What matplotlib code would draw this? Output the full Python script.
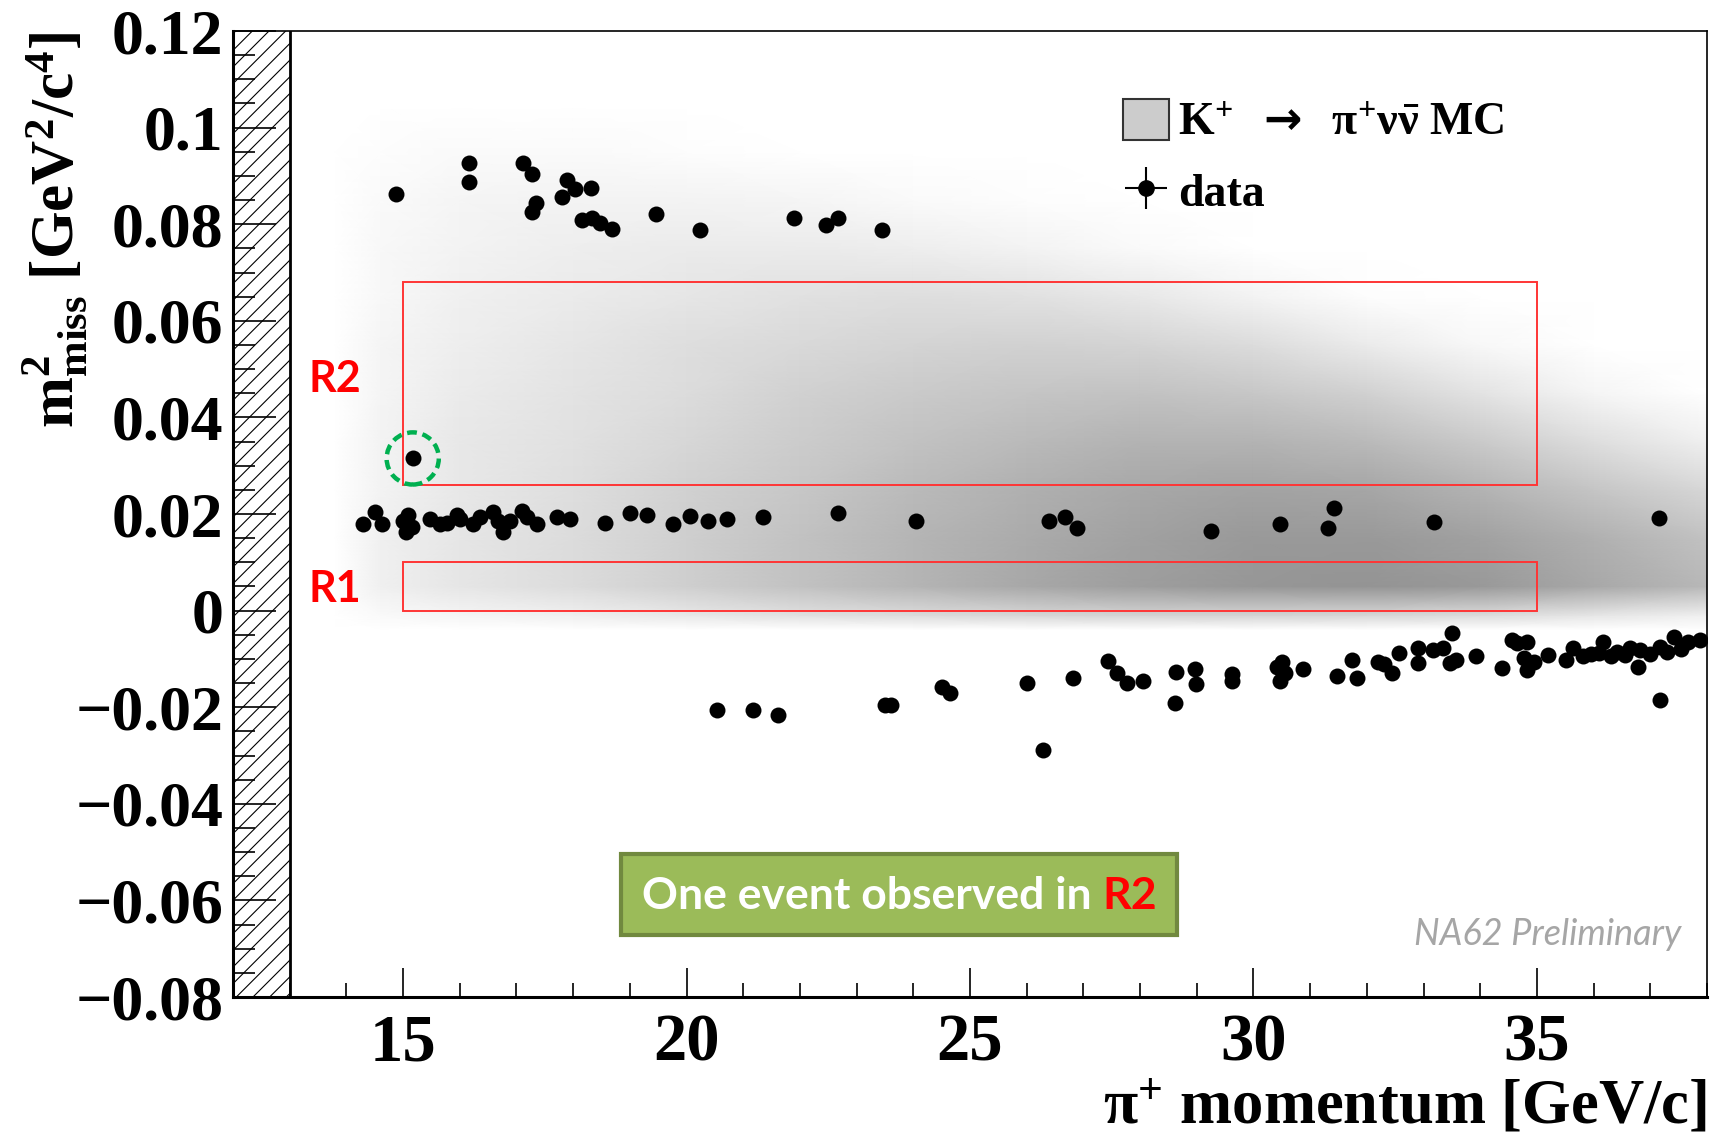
import numpy as np
import matplotlib
matplotlib.use("Agg")
import matplotlib.pyplot as plt
from matplotlib.patches import Rectangle, Ellipse, Patch
from matplotlib.lines import Line2D
from matplotlib.legend_handler import HandlerTuple
from matplotlib.ticker import MultipleLocator, FuncFormatter

plt.rcParams['font.family'] = ['Liberation Serif', 'DejaVu Serif']
plt.rcParams['font.weight'] = 'bold'
plt.rcParams['mathtext.fontset'] = 'custom'
plt.rcParams['mathtext.rm'] = 'Liberation Serif:bold'
plt.rcParams['mathtext.it'] = 'Liberation Serif:bold:italic'
plt.rcParams['mathtext.bf'] = 'Liberation Serif:bold'
plt.rcParams['mathtext.sf'] = 'DejaVu Sans'
plt.rcParams['hatch.linewidth'] = 0.8

# --- signal MC density (grey level 0..1), nodes in momentum / m2miss ---
mc_p = [13.8, 14.6, 16, 18, 20, 22, 24, 26, 28, 30, 32, 34, 36, 38]
mc_m2 = [-0.004, -0.001, 0.005, 0.015, 0.025, 0.035, 0.045, 0.055,
         0.065, 0.075, 0.085, 0.095, 0.105]
mc_level = [
    [0, 0, 0, 0, 0, 0, 0, 0, 0, 0, 0, 0, 0, 0],
    [0, .02, .04, .06, .09, .12, .14, .16, .17, .17, .16, .14, .10, .06],
    [0, .06, .10, .14, .19, .24, .29, .34, .38, .41, .42, .40, .34, .28],
    [0, .06, .10, .14, .19, .24, .29, .33, .37, .40, .40, .37, .31, .24],
    [0, .05, .09, .13, .18, .22, .27, .31, .34, .36, .35, .30, .23, .16],
    [0, .05, .09, .12, .16, .20, .24, .27, .30, .30, .27, .21, .13, .06],
    [0, .04, .08, .11, .14, .18, .21, .23, .24, .22, .18, .11, .04, 0],
    [0, .04, .07, .10, .13, .15, .17, .18, .17, .14, .08, .03, 0, 0],
    [0, .03, .06, .08, .10, .12, .13, .12, .09, .05, .01, 0, 0, 0],
    [0, .03, .05, .07, .08, .08, .07, .05, .02, 0, 0, 0, 0, 0],
    [0, .02, .04, .05, .05, .04, .02, .01, 0, 0, 0, 0, 0, 0],
    [0, .01, .02, .02, .01, 0, 0, 0, 0, 0, 0, 0, 0, 0],
    [0, 0, 0, 0, 0, 0, 0, 0, 0, 0, 0, 0, 0, 0],
]

# --- data events: pi+ momentum [GeV/c], m2miss [GeV^2/c^4] ---
# upper band
p_up = [14.87, 16.16, 16.16, 17.11, 17.28, 17.35, 17.28, 17.89, 18.03, 18.31,
        17.80, 18.16, 18.34, 18.48, 18.69, 19.46, 20.23, 21.90, 22.46, 22.68, 23.45]
m2_up = [0.0862, 0.0927, 0.0887, 0.0927, 0.0903, 0.0843, 0.0826, 0.0892, 0.0872, 0.0874,
         0.0857, 0.0809, 0.0812, 0.0803, 0.0791, 0.0821, 0.0788, 0.0812, 0.0798, 0.0812, 0.0788]
# candidate in R2
p_cand = [15.17]
m2_cand = [0.0315]
# K+ -> pi+ pi0 band
p_mid = [14.29, 14.50, 14.62, 15.00, 15.06, 15.15, 15.08, 15.47, 15.65, 15.77,
         15.95, 16.01, 16.24, 16.36, 16.59, 16.68, 16.77, 16.89, 17.09, 17.18,
         17.36, 17.71, 17.94, 18.56, 19.00, 19.30, 19.77, 20.06, 20.38, 20.71,
         21.35, 22.68, 24.04, 26.40, 26.68, 26.89, 29.25, 30.46, 31.32, 31.42,
         33.18, 37.15]
m2_mid = [0.0179, 0.0204, 0.0179, 0.0186, 0.0163, 0.0173, 0.0198, 0.0190, 0.0180, 0.0181,
          0.0198, 0.0190, 0.0180, 0.0193, 0.0205, 0.0186, 0.0163, 0.0186, 0.0207, 0.0193,
          0.0180, 0.0193, 0.0190, 0.0181, 0.0202, 0.0198, 0.0180, 0.0195, 0.0186, 0.0190,
          0.0193, 0.0203, 0.0186, 0.0186, 0.0193, 0.0170, 0.0165, 0.0179, 0.0170, 0.0212,
          0.0184, 0.0191]
# K+ -> mu+ nu band
p_low = [20.53, 21.17, 21.62, 23.50, 23.61, 24.51, 24.65, 26.00, 26.28, 26.81,
         27.44, 27.60, 27.77, 28.05, 28.63, 28.62, 28.96, 28.98, 29.63, 29.63,
         30.42, 30.50, 30.47, 30.55, 30.88, 31.47, 31.74, 31.82, 32.20, 32.30,
         32.44, 32.56, 32.91, 32.91, 33.17, 33.35, 33.51, 33.46, 33.58, 33.93,
         34.38, 34.56, 34.65, 34.82, 34.78, 34.82, 34.94, 35.20, 35.52, 35.64,
         35.81, 35.95, 36.17, 36.09, 36.30, 36.41, 36.55, 36.64, 36.79, 36.82,
         37.00, 37.17, 37.17, 37.29, 37.41, 37.55, 37.67, 37.88]
m2_low = [-0.0206, -0.0206, -0.0216, -0.0195, -0.0195, -0.0158, -0.0171, -0.0149, -0.0289, -0.0140,
          -0.0104, -0.0130, -0.0149, -0.0145, -0.0127, -0.0191, -0.0120, -0.0153, -0.0131, -0.0145,
          -0.0116, -0.0106, -0.0145, -0.0130, -0.0120, -0.0135, -0.0102, -0.0140, -0.0106, -0.0110,
          -0.0130, -0.0088, -0.0078, -0.0109, -0.0082, -0.0078, -0.0047, -0.0109, -0.0102, -0.0093,
          -0.0118, -0.0061, -0.0068, -0.0064, -0.0099, -0.0123, -0.0106, -0.0092, -0.0102, -0.0078,
          -0.0095, -0.0090, -0.0064, -0.0088, -0.0095, -0.0085, -0.0092, -0.0078, -0.0116, -0.0081,
          -0.0090, -0.0185, -0.0075, -0.0085, -0.0054, -0.0080, -0.0065, -0.0061]

# signal regions (m2miss limits), momentum range 15-35
r1 = (0.0, 0.010)
r2 = (0.026, 0.068)
p_range = (15, 35)

fig = plt.figure(figsize=(17.23, 11.37), dpi=100)
ax = fig.add_axes([233 / 1723, 1 - 997 / 1137, 1474 / 1723, 966 / 1137])

ax.pcolormesh(mc_p, mc_m2, np.array(mc_level), shading='gouraud',
              cmap='gray_r', vmin=0, vmax=1, zorder=0)

# excluded momentum region
ax.axvspan(12, 13, facecolor='none', edgecolor='k', hatch='//', lw=0, zorder=1)
ax.axvline(13, color='k', lw=2, zorder=2)

for lo, hi in (r1, r2):
    ax.add_patch(Rectangle((p_range[0], lo), p_range[1] - p_range[0], hi - lo,
                           fill=False, ec='#ff3535', lw=1.4, zorder=3))

allp = p_up + p_cand + p_mid + p_low
allm = m2_up + m2_cand + m2_mid + m2_low
ax.plot(allp, allm, 'o', color='k', ms=11.5, mew=0, zorder=5)

ax.add_patch(Ellipse((p_cand[0], m2_cand[0]), 0.92, 0.0108, fill=False,
                     ec='#00b050', lw=3.2, ls=(0, (2.2, 1.3)), zorder=6))

ax.text(13.8, 0.048, 'R2', color='#ff0000', fontsize=31, family='Lato',
        weight='bold', ha='center', va='center')
ax.text(13.8, 0.0045, 'R1', color='#ff0000', fontsize=31, family='Lato',
        weight='bold', ha='center', va='center')

# annotation box
ax.add_patch(Rectangle((18.84, -0.0672), 9.81, 0.0168, facecolor='#9bbb59',
                       edgecolor='#71893f', lw=3, zorder=6))
t = ax.text(19.21, -0.0590, 'One event observed in ', color='white', fontsize=32,
            family='Lato', weight='bold', ha='left', va='center', zorder=7)
ax.annotate('R2', xy=(1, 0), xycoords=t, va='bottom', ha='left', color='#ff0000',
            fontsize=32, family='Lato', weight='bold', zorder=7)
ax.text(37.55, -0.067, 'NA62 Preliminary', color='#a6a6a6', fontsize=26,
        family='Lato', style='italic', weight='normal', ha='right', va='center')

ax.set_xlim(12, 38)
ax.set_ylim(-0.08, 0.12)
ax.xaxis.set_major_locator(MultipleLocator(5))
ax.xaxis.set_minor_locator(MultipleLocator(1))
ax.yaxis.set_major_locator(MultipleLocator(0.02))
ax.yaxis.set_minor_locator(MultipleLocator(0.005))
ax.yaxis.set_major_formatter(FuncFormatter(
    lambda v, pos: ('%g' % round(v, 4)).replace('-', '\u2212')))
ax.tick_params(which='both', direction='in', top=False, right=False, width=1.2)
ax.tick_params(axis='x', which='major', length=21, pad=12, labelsize=48)
ax.tick_params(axis='x', which='minor', length=10)
ax.tick_params(axis='y', which='major', length=31, pad=7, labelsize=46)
ax.tick_params(axis='y', which='minor', length=16)
for lab in ax.get_xticklabels() + ax.get_yticklabels():
    lab.set_fontweight('bold')
for side in ('top', 'right'):
    ax.spines[side].set_linewidth(1.2)
for side in ('left', 'bottom'):
    ax.spines[side].set_linewidth(2.2)

ax.set_xlabel(r'π$^{+}$ momentum [GeV/c]', fontsize=45, weight='bold', loc='right')
ax.xaxis.set_label_coords(1.0, -0.085)
ax.set_ylabel(r'm$^{2}_{\mathrm{miss}}$ [GeV$^{2}$/c$^{4}$]', fontsize=44,
              weight='bold', loc='top')
ax.yaxis.set_label_coords(-0.097, 0.999)

h_mc = Patch(facecolor='#cccccc', edgecolor='#333333', lw=1.5)
h_data = (Line2D([], [], marker='+', ms=30, mew=1.5, color='k', ls='none'),
          Line2D([], [], marker='o', ms=11, color='k', ls='none'))
ax.legend([h_mc, h_data],
          [r'K$^{+}$  $\mathsf{\rightarrow}$  π$^{+}$ν$\bar{\mathrm{ν}}$ MC', 'data'],
          handler_map={tuple: HandlerTuple(ndivide=1)},
          loc='upper left', bbox_to_anchor=(0.604, 0.930), frameon=False,
          fontsize=33, handlelength=1.0, handleheight=1.0, handletextpad=0.2,
          labelspacing=0.55, borderpad=0, borderaxespad=0)

fig.savefig('out.png', dpi=100)
